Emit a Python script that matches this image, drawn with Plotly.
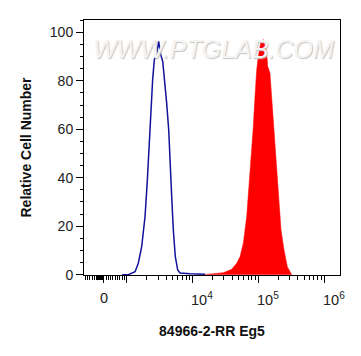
import numpy as np
import plotly.graph_objects as go

# ---- data (fluorescence intensity, relative cell number %) ----
blue_intensity = [800, 1060, 1340, 1500, 1690, 1900, 2060, 2200, 2340, 2480, 2630,
                  2860, 3060, 3290, 3530, 3730, 4050, 4350, 4550, 4830, 5110, 5480,
                  5960, 6460, 9160, 15500]
blue_count = [0, 0, 1.2, 4.7, 11.6, 24, 39, 55.7, 70.8, 80.5, 88.7,
              90.8, 96.3, 90.8, 88, 81.8, 70.8, 59.8, 46, 32.2, 18.5, 7.4,
              1.9, 0.7, 0.4, 0.2]

red_intensity = [14600, 20700, 29400, 39400, 47000, 52800, 59200, 66700, 73000,
                 79400, 84000, 89100, 94600, 100000, 108700, 119100, 129500,
                 134300, 138900, 150500, 159800, 173300, 185800, 201400, 221400,
                 246000, 276200, 322000]
red_count = [0, 0.3, 0.8, 2.2, 4.7, 7.4, 13, 24, 37.8, 50, 61, 73.5, 84.6, 90,
             95.6, 97, 94.2, 91.5, 86, 83.2, 73.5, 59.8, 46, 32.2, 18.5, 10.2,
             3.3, 0]

x_tick_values = [0, 1e3, 1e4, 1e5, 1e6]
x_tick_labels = ["0", "", "10<sup>4</sup>", "10<sup>5</sup>", "10<sup>6</sup>"]
y_tick_values = [0, 20, 40, 60, 80, 100]
y_tick_labels = ["0", "20", "40", "60", "80", "100"]

x_title = "84966-2-RR Eg5"
y_title = "Relative Cell Number"
watermark = "WWW.PTGLAB.COM"

# ---- biexponential-like display transform (decades) ----
LIN = 23 / 65.8  # decades spanned by the linear region 0..1000


def to_display(v):
    v = np.asarray(v, dtype=float)
    return np.where(v >= 1000, np.log10(np.maximum(v, 1000)),
                    3 + (v - 1000) / 1000 * LIN)


minor_vals = list(np.arange(-800, 1000, 100)) + list(np.arange(-300, 0, 20))
for dec in [1e3, 1e4, 1e5]:
    minor_vals += [k * dec for k in range(2, 10)]

FONT = "Arial, Liberation Sans, sans-serif"

fig = go.Figure()
fig.add_trace(go.Scatter(
    x=to_display(red_intensity), y=red_count, mode="lines",
    fill="tozeroy", fillcolor="#ff0000",
    line=dict(color="#ff0000", width=0.5), hoverinfo="skip", showlegend=False))
fig.add_trace(go.Scatter(
    x=to_display(blue_intensity), y=blue_count, mode="lines",
    line=dict(color="#12129c", width=1.5), hoverinfo="skip", showlegend=False))

# x tick labels (offset to the right like the reference)
shifts = [0, 0, 10, 10, 10]
for v, t, s in zip(x_tick_values, x_tick_labels, shifts):
    if not t:
        continue
    fig.add_annotation(x=float(to_display(v)), xref="x", y=-0.05, yref="paper",
                       yanchor="top", xanchor="center", xshift=s, text=t,
                       showarrow=False, font=dict(family=FONT, size=14.5, color="#222"))

fig.add_annotation(x=0.505, y=0.95, xref="paper", yref="paper", text=watermark,
                   showarrow=False,
                   font=dict(family=FONT, size=25, color="#f4f4f4", style="italic",
                             shadow="1px 1px 1px #c4c4c4"))

fig.update_layout(
    width=361, height=356,
    margin=dict(l=84, r=21, t=20, b=81, autoexpand=False),
    paper_bgcolor="white", plot_bgcolor="white",
    font=dict(family=FONT, color="#222"),
    xaxis=dict(
        range=[2.351, 6.242], showgrid=False, zeroline=False, automargin=False,
        showline=True, linecolor="black", linewidth=1, mirror=True,
        tickvals=list(to_display(x_tick_values)), showticklabels=False,
        ticks="outside", ticklen=7, tickwidth=1, tickcolor="black",
        minor=dict(tickvals=list(to_display(minor_vals)), ticks="outside",
                   ticklen=4, tickwidth=1, tickcolor="black"),
        title=dict(text="<b>" + x_title + "</b>", standoff=44,
                   font=dict(family=FONT, size=14, color="#111")),
    ),
    yaxis=dict(
        range=[-0.15, 105.1], showgrid=False, zeroline=False, automargin=False,
        showline=True, linecolor="black", linewidth=1, mirror=True,
        tickvals=y_tick_values, ticktext=y_tick_labels,
        ticks="outside", ticklen=7, tickwidth=1, tickcolor="black",
        tickfont=dict(family=FONT, size=14, color="#222"),
        minor=dict(dtick=5, ticks="outside", ticklen=3, tickwidth=1, tickcolor="black"),
        title=dict(text="<b>" + y_title + "</b>", standoff=14,
                   font=dict(family=FONT, size=14, color="#111")),
    ),
)

fig.write_html("out.html", config={"displayModeBar": False},
               post_script="document.body.style.margin='0';document.body.style.padding='0';")
